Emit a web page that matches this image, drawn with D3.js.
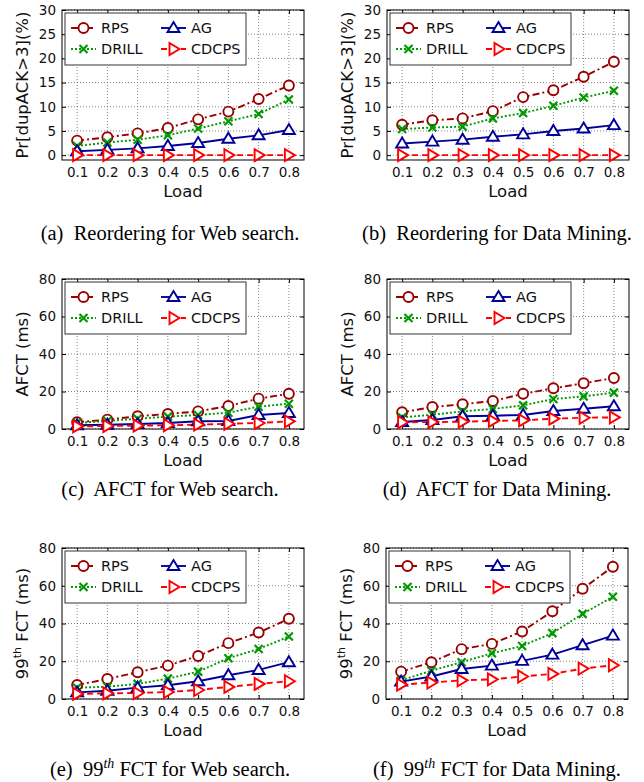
<!DOCTYPE html>
<html>
<head>
<meta charset="utf-8">
<script src="https://cdn.jsdelivr.net/npm/d3@7"></script>
<style>
  body { margin: 0; background: #fff; }
  svg { display: block; }
  text { white-space: pre; }
</style>
</head>
<body>
<script>
// load on the x axis, shared by all six panels
const loads = [0.1, 0.2, 0.3, 0.4, 0.5, 0.6, 0.7, 0.8];
const schemes = ['RPS', 'DRILL', 'AG', 'CDCPS'];

// (a) reordering, web search  (%)
const reorderWebRPS   = [3.0, 3.7, 4.5, 5.6, 7.4, 9.0, 11.6, 14.4];
const reorderWebDRILL = [1.9, 2.6, 3.2, 4.1, 5.5, 7.0, 8.5, 11.5];
const reorderWebAG    = [0.8, 1.1, 1.4, 1.9, 2.5, 3.4, 4.1, 5.2];
const reorderWebCDCPS = [0, 0, 0, 0, 0, 0, 0, 0];

// (b) reordering, data mining (%)
const reorderDmRPS   = [6.3, 7.2, 7.6, 9.1, 12.0, 13.4, 16.2, 19.3];
const reorderDmDRILL = [5.4, 5.7, 5.9, 7.6, 8.7, 10.2, 11.9, 13.3];
const reorderDmAG    = [2.4, 2.8, 3.2, 3.8, 4.3, 5.0, 5.5, 6.2];
const reorderDmCDCPS = [0, 0, 0, 0, 0, 0, 0, 0];

// (c) AFCT, web search (ms)
const afctWebRPS   = [3.6, 5.0, 6.8, 8.0, 9.4, 12.3, 16.2, 18.8];
const afctWebDRILL = [3.2, 4.3, 5.5, 6.6, 7.5, 8.7, 11.9, 13.5];
const afctWebAG    = [2.0, 2.3, 2.7, 3.2, 4.1, 4.3, 7.5, 8.5];
const afctWebCDCPS = [1.4, 1.6, 1.8, 2.0, 2.3, 2.8, 3.2, 4.1];

// (d) AFCT, data mining (ms)
const afctDmRPS   = [8.9, 11.7, 13.2, 14.9, 18.8, 21.7, 24.4, 27.2];
const afctDmDRILL = [6.2, 7.6, 9.4, 10.7, 12.6, 16.0, 17.4, 19.4];
const afctDmAG    = [3.7, 4.8, 6.8, 7.1, 7.5, 9.6, 10.8, 12.1];
const afctDmCDCPS = [3.6, 3.7, 3.9, 4.3, 4.6, 5.5, 6.0, 6.2];

// (e) 99th FCT, web search (ms)
const p99WebRPS   = [7.4, 10.6, 14.2, 17.7, 22.8, 29.6, 35.2, 42.5];
const p99WebDRILL = [6.0, 6.5, 8.0, 10.8, 14.5, 21.6, 26.5, 33.1];
const p99WebAG    = [3.5, 4.4, 6.0, 7.3, 9.4, 12.6, 15.4, 19.5];
const p99WebCDCPS = [2.7, 3.0, 3.2, 3.7, 4.8, 6.4, 8.0, 9.4];

// (f) 99th FCT, data mining (ms)
const p99DmRPS   = [14.5, 19.5, 26.4, 29.2, 35.8, 46.5, 58.4, 70.1];
const p99DmDRILL = [9.9, 15.0, 19.5, 24.2, 28.1, 34.9, 45.1, 54.2];
const p99DmAG    = [9.2, 11.9, 15.9, 17.7, 20.2, 23.5, 28.5, 33.6];
const p99DmCDCPS = [7.6, 8.7, 9.9, 10.4, 11.9, 13.3, 16.1, 17.9];

const xTicks = loads;
const reorderTicks = [0, 5, 10, 15, 20, 25, 30];
const fctTicks = [0, 20, 40, 60, 80];

const STYLE = {
    RPS:   {color: '#990000', dash: '7,3,2,3', marker: 'circle'},
    DRILL: {color: '#009900', dash: '2,2',     marker: 'cross'},
    AG:    {color: '#000099', dash: null,      marker: 'up'},
    CDCPS: {color: '#ff0000', dash: '6,4',     marker: 'right'}
};

const W = 644, H = 782;
const svg = d3.select('body').append('svg')
    .attr('width', W).attr('height', H)
    .style('font-family', "'DejaVu Sans', sans-serif");

const panels = [
    {x0: 62,  x1: 304, y0: 10,  y1: 160, ydom: [-1, 30], ticks: reorderTicks, ylab: 'reorder',
     data: [reorderWebRPS, reorderWebDRILL, reorderWebAG, reorderWebCDCPS],
     cap: ['(a)  Reordering for Web search.'], capX: 170, capY: 240},
    {x0: 387, x1: 629, y0: 10,  y1: 160, ydom: [-1, 30], ticks: reorderTicks, ylab: 'reorder',
     data: [reorderDmRPS, reorderDmDRILL, reorderDmAG, reorderDmCDCPS],
     cap: ['(b)  Reordering for Data Mining.'], capX: 497, capY: 240},
    {x0: 62,  x1: 304, y0: 279, y1: 429, ydom: [0, 80], ticks: fctTicks, ylab: 'afct',
     data: [afctWebRPS, afctWebDRILL, afctWebAG, afctWebCDCPS],
     cap: ['(c)  AFCT for Web search.'], capX: 170, capY: 496},
    {x0: 387, x1: 629, y0: 279, y1: 429, ydom: [0, 80], ticks: fctTicks, ylab: 'afct',
     data: [afctDmRPS, afctDmDRILL, afctDmAG, afctDmCDCPS],
     cap: ['(d)  AFCT for Data Mining.'], capX: 497, capY: 496},
    {x0: 62,  x1: 304, y0: 548, y1: 699, ydom: [0, 80], ticks: fctTicks, ylab: 'p99',
     data: [p99WebRPS, p99WebDRILL, p99WebAG, p99WebCDCPS],
     cap: ['(e)  99', 'th', ' FCT for Web search.'], capX: 170, capY: 776},
    {x0: 386, x1: 628, y0: 548, y1: 699, ydom: [0, 80], ticks: fctTicks, ylab: 'p99',
     data: [p99DmRPS, p99DmDRILL, p99DmAG, p99DmCDCPS],
     cap: ['(f)  99', 'th', ' FCT for Data Mining.'], capX: 497, capY: 776}
];

function drawMarker(g, type, cx, cy, color) {
    if (type === 'circle') {
        g.append('circle').attr('cx', cx).attr('cy', cy).attr('r', 5)
            .attr('fill', '#fff').attr('stroke', color).attr('stroke-width', 1.9);
    } else if (type === 'cross') {
        const s = 4;
        g.append('path')
            .attr('d', `M${cx - s},${cy - s}L${cx + s},${cy + s}M${cx - s},${cy + s}L${cx + s},${cy - s}`)
            .attr('stroke', color).attr('stroke-width', 2.2).attr('fill', 'none');
    } else if (type === 'up') {
        g.append('path')
            .attr('d', `M${cx},${cy - 6}L${cx + 6},${cy + 4}L${cx - 6},${cy + 4}Z`)
            .attr('fill', '#fff').attr('stroke', color).attr('stroke-width', 1.9);
    } else {
        g.append('path')
            .attr('d', `M${cx + 6},${cy}L${cx - 4},${cy - 6}L${cx - 4},${cy + 6}Z`)
            .attr('fill', '#fff').attr('stroke', color).attr('stroke-width', 1.9);
    }
}

function yLabel(g, kind, x, y) {
    const t = g.append('text')
        .attr('transform', `translate(${x},${y}) rotate(-90)`)
        .attr('text-anchor', 'middle')
        .attr('font-size', 16.5)
        .attr('fill', '#111');
    if (kind === 'reorder') t.text('Pr[dupACK>3](%)');
    else if (kind === 'afct') t.text('AFCT (ms)');
    else {
        t.append('tspan').text('99');
        t.append('tspan').attr('font-size', 11).attr('dy', -7).text('th');
        t.append('tspan').attr('dy', 7).text(' FCT (ms)');
    }
}

panels.forEach(p => {
    const x = d3.scaleLinear().domain([0.05, 0.85]).range([p.x0, p.x1]);
    const y = d3.scaleLinear().domain(p.ydom).range([p.y1, p.y0]);
    const g = svg.append('g');

    // grid
    g.append('g').selectAll('line.gx').data(xTicks).join('line')
        .attr('x1', d => x(d)).attr('x2', d => x(d))
        .attr('y1', p.y0).attr('y2', p.y1)
        .attr('stroke', '#666').attr('stroke-width', 0.8).attr('stroke-dasharray', '1,2');
    g.append('g').selectAll('line.gy').data(p.ticks).join('line')
        .attr('x1', p.x0).attr('x2', p.x1)
        .attr('y1', d => y(d)).attr('y2', d => y(d))
        .attr('stroke', '#666').attr('stroke-width', 0.8).attr('stroke-dasharray', '1,2');

    // axes with mirrored inward ticks
    const ax = [
        [d3.axisBottom(x).tickValues(xTicks).tickFormat(d3.format('.1f')).tickSizeInner(-4).tickSizeOuter(0).tickPadding(7), `translate(0,${p.y1})`],
        [d3.axisTop(x).tickValues(xTicks).tickFormat('').tickSizeInner(-4).tickSizeOuter(0), `translate(0,${p.y0})`],
        [d3.axisLeft(y).tickValues(p.ticks).tickSizeInner(-4).tickSizeOuter(0).tickPadding(6), `translate(${p.x0},0)`],
        [d3.axisRight(y).tickValues(p.ticks).tickFormat('').tickSizeInner(-4).tickSizeOuter(0), `translate(${p.x1},0)`]
    ];
    ax.forEach(([a, tr]) => {
        const ga = g.append('g').attr('transform', tr).call(a);
        ga.select('.domain').remove();
        ga.selectAll('line').attr('stroke', '#000');
        ga.selectAll('text').attr('font-size', 13.5).attr('fill', '#111')
            .style('font-family', "'DejaVu Sans', sans-serif");
    });

    g.append('rect').attr('x', p.x0).attr('y', p.y0)
        .attr('width', p.x1 - p.x0).attr('height', p.y1 - p.y0)
        .attr('fill', 'none').attr('stroke', '#000').attr('stroke-width', 1);

    // series
    const line = d3.line().x((d, i) => x(loads[i])).y(d => y(d));
    schemes.forEach((s, k) => {
        const st = STYLE[s];
        g.append('path').datum(p.data[k]).attr('d', line)
            .attr('fill', 'none').attr('stroke', st.color).attr('stroke-width', 1.9)
            .attr('stroke-dasharray', st.dash);
    });
    schemes.forEach((s, k) => {
        const st = STYLE[s];
        p.data[k].forEach((v, i) => drawMarker(g, st.marker, x(loads[i]), y(v), st.color));
    });

    // legend
    const lx = p.x0 + 3, ly = p.y0 + 3;
    g.append('rect').attr('x', lx).attr('y', ly).attr('width', 181).attr('height', 52)
        .attr('fill', '#fff').attr('stroke', '#333').attr('stroke-width', 1);
    schemes.forEach((s, k) => {
        const st = STYLE[s];
        const col = k === 0 || k === 1 ? 0 : 1;
        const row = k === 0 || k === 2 ? 0 : 1;
        const sx = lx + 6 + col * 90, sy = ly + 15 + row * 21;
        g.append('line').attr('x1', sx).attr('x2', sx + 25).attr('y1', sy).attr('y2', sy)
            .attr('stroke', st.color).attr('stroke-width', 1.9).attr('stroke-dasharray', st.dash);
        drawMarker(g, st.marker, sx + 12.5, sy, st.color);
        g.append('text').attr('x', sx + 30).attr('y', sy + 5)
            .attr('font-size', 14.5).attr('fill', '#111').text(s);
    });

    // axis titles
    g.append('text').attr('x', (p.x0 + p.x1) / 2).attr('y', p.y1 + 37)
        .attr('text-anchor', 'middle').attr('font-size', 16.5).attr('fill', '#111').text('Load');
    yLabel(g, p.ylab, p.x0 - 34, (p.y0 + p.y1) / 2);

    // caption
    const c = svg.append('text').attr('x', p.capX).attr('y', p.capY)
        .attr('text-anchor', 'middle')
        .style('font-family', "'Liberation Serif', 'Times New Roman', serif")
        .attr('font-size', 20.5).attr('fill', '#000');
    c.append('tspan').text(p.cap[0]);
    if (p.cap.length > 1) {
        c.append('tspan').attr('font-size', 14).attr('font-style', 'italic').attr('dy', -8).text(p.cap[1]);
        c.append('tspan').attr('dy', 8).text(p.cap[2]);
    }
});
</script>
</body>
</html>
